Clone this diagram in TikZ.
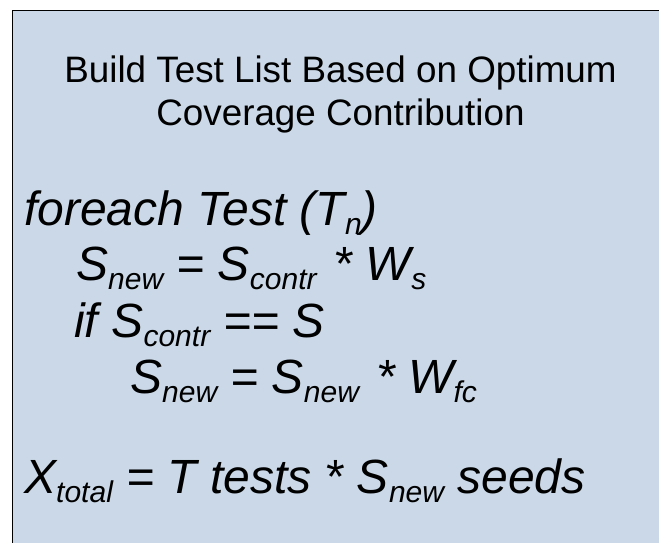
\documentclass[tikz,border=0pt]{standalone}
\usepackage{fontspec}
\setmainfont{Liberation Sans}
\definecolor{panelfill}{RGB}{202,216,231}
% lowered, smaller index text for the formula lines
\newcommand{\lowidx}[1]{\raisebox{-9pt}{\fontsize{30}{30}\selectfont #1}}
\begin{document}
\begin{tikzpicture}[x=1pt,y=-1pt,
  titletext/.style={anchor=base,inner sep=0pt,font=\fontsize{36.8}{43}\selectfont},
  codeline/.style={anchor=base west,inner sep=0pt,font=\fontsize{48}{57}\selectfont\itshape}]
  \useasboundingbox (0,0) rectangle (659,543);
  % panel: fill, with only its top and left edges inside the frame
  \fill[panelfill] (12.5,10.5) rectangle (659,543);
  \draw[line width=1.5pt] (12.5,543) -- (12.5,10.5) -- (659,10.5);

  \node[titletext] (titleA) at (340.5,82) {Build Test List Based on Optimum};
  \node[titletext] (titleB) at (340.5,125) {Coverage Contribution};

  \node[codeline] (loop)    at (24,225) {foreach Test (T\lowidx{n})};
  \node[codeline] (scale)   at (76,280) {S\lowidx{new} = S\lowidx{contr}\hspace{4pt} * W\lowidx{s}};
  \node[codeline] (cond)    at (74,337) {if S\lowidx{contr} == S};
  \node[codeline] (rescale) at (130,393) {S\lowidx{new} = S\lowidx{new}\hspace{4pt} * W\lowidx{fc}};
  \node[codeline] (total)   at (24,493) {X\lowidx{total} = T tests * S\lowidx{new} seeds};
\end{tikzpicture}
\end{document}
